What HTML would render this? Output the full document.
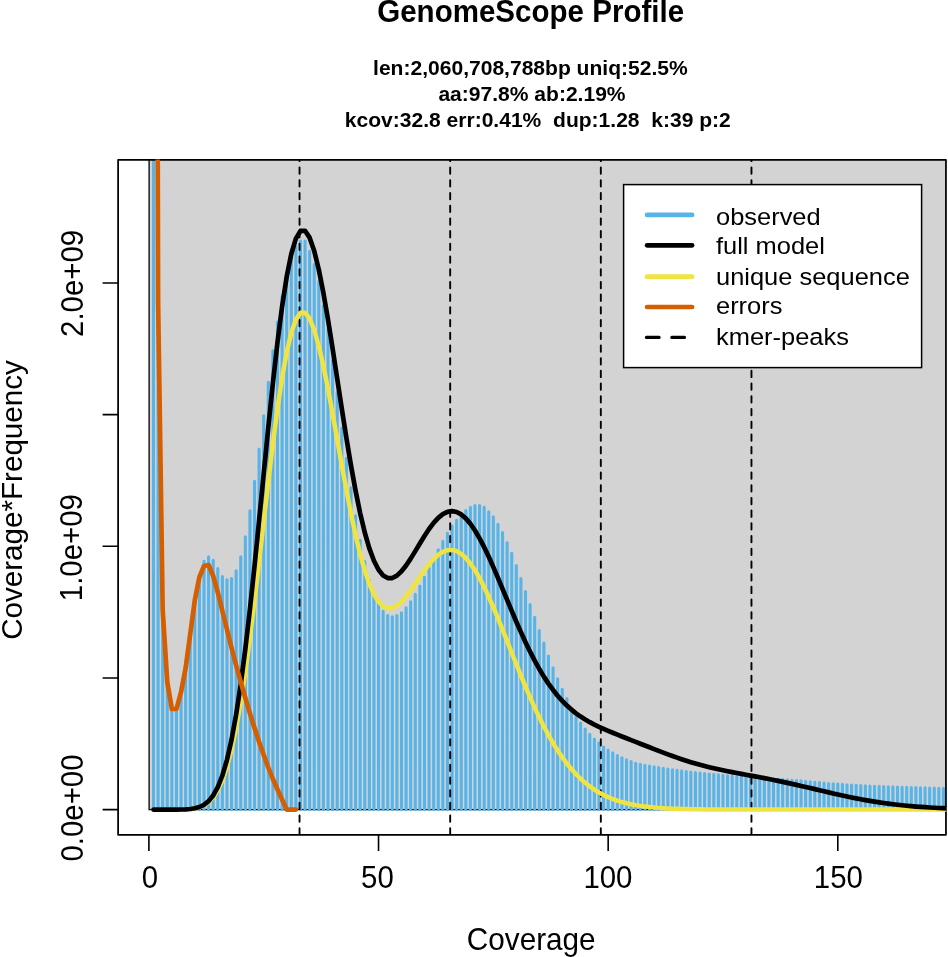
<!DOCTYPE html>
<html lang="en"><head><meta charset="utf-8"><title>GenomeScope Profile</title>
<style>
html,body{margin:0;padding:0;background:#fff;}
body{width:948px;height:957px;overflow:hidden;}
svg{display:block;}
text{font-family:"Liberation Sans",Arial,Helvetica,sans-serif;fill:#000;}
.b{font-weight:bold;}
</style></head><body>
<svg width="948" height="957" viewBox="0 0 948 957">
<rect x="0" y="0" width="948" height="957" fill="#ffffff"/>
<defs><clipPath id="plot"><rect x="118.1" y="159.95" width="827.85" height="674.90"/></clipPath><clipPath id="plot2"><rect x="117.65" y="159.50" width="828.75" height="675.80"/></clipPath></defs>
<text class="b" transform="translate(530.65 22.4) scale(1 1.075)" font-size="29.55" text-anchor="middle">GenomeScope Profile</text>
<text class="b" x="530.4" y="75.1" font-size="21.05" text-anchor="middle">len:2,060,708,788bp uniq:52.5%</text>
<text class="b" x="532.0" y="100.6" font-size="21.05" text-anchor="middle">aa:97.8% ab:2.19%</text>
<text class="b" x="537.8" y="126.9" font-size="21.05" text-anchor="middle" xml:space="preserve">kcov:32.8 err:0.41%  dup:1.28  k:39 p:2</text>
<g clip-path="url(#plot)">
<rect x="149.10" y="139.95" width="900" height="669.65" fill="#d3d3d3" stroke="#000" stroke-width="1.3"/>
<path d="M153.49 809.6V100.5M158.09 809.6V300.6M162.68 809.6V610.5M167.27 809.6V682.5M171.86 809.6V709.5M176.46 809.6V709.5M181.05 809.6V690.5M185.64 809.6V668.5M190.23 809.6V636.5M194.83 809.6V601.5M199.42 809.6V577.5M204.01 809.6V561.3M208.61 809.6V556.8M213.20 809.6V560.4M217.79 809.6V568.5M222.38 809.6V576.5M226.98 809.6V579.8M231.57 809.6V578.5M236.16 809.6V570.9M240.75 809.6V556.8M245.35 809.6V536.8M249.94 809.6V510.9M254.53 809.6V481.2M259.12 809.6V449.2M263.72 809.6V415.8M268.31 809.6V382.4M272.90 809.6V350.8M277.50 809.6V322.1M282.09 809.6V296.6M286.68 809.6V275.6M291.27 809.6V258.6M295.87 809.6V246.6M300.46 809.6V241.1M305.05 809.6V241.1M309.64 809.6V251.2M314.24 809.6V264.6M318.83 809.6V281.6M323.42 809.6V305.6M328.02 809.6V329.6M332.61 809.6V360.6M337.20 809.6V392.6M341.79 809.6V428.1M346.39 809.6V458.4M350.98 809.6V487.9M355.57 809.6V515.8M360.16 809.6V540.4M364.76 809.6V561.5M369.35 809.6V580.1M373.94 809.6V593.5M378.53 809.6V603.5M383.13 809.6V611.3M387.72 809.6V615.5M392.31 809.6V616.9M396.91 809.6V615.5M401.50 809.6V612.8M406.09 809.6V607.9M410.68 809.6V601.8M415.28 809.6V594.4M419.87 809.6V586.0M424.46 809.6V577.2M429.05 809.6V568.3M433.65 809.6V559.0M438.24 809.6V549.8M442.83 809.6V541.3M447.43 809.6V533.2M452.02 809.6V526.1M456.61 809.6V520.2M461.20 809.6V515.1M465.80 809.6V510.6M470.39 809.6V507.2M474.98 809.6V505.6M479.57 809.6V505.6M484.17 809.6V507.2M488.76 809.6V511.8M493.35 809.6V516.8M497.95 809.6V524.2M502.54 809.6V532.6M507.13 809.6V542.8M511.72 809.6V553.2M516.32 809.6V565.5M520.91 809.6V578.5M525.50 809.6V591.6M530.09 809.6V604.6M534.69 809.6V617.3M539.28 809.6V630.5M543.87 809.6V643.1M548.46 809.6V656.0M553.06 809.6V667.9M557.65 809.6V678.9M562.24 809.6V689.3M566.84 809.6V698.6M571.43 809.6V708.5M576.02 809.6V717.2M580.61 809.6V723.1M585.21 809.6V729.0M589.80 809.6V734.4M594.39 809.6V739.1M598.98 809.6V743.0M603.58 809.6V747.0M608.17 809.6V750.1M612.76 809.6V752.9M617.36 809.6V755.5M621.95 809.6V757.8M626.54 809.6V759.8M631.13 809.6V761.5M635.73 809.6V763.2M640.32 809.6V764.4M644.91 809.6V765.4M649.50 809.6V766.1M654.10 809.6V766.8M658.69 809.6V767.6M663.28 809.6V768.3M667.88 809.6V769.0M672.47 809.6V769.7M677.06 809.6V770.3M681.65 809.6V770.9M686.25 809.6V771.5M690.84 809.6V772.1M695.43 809.6V772.6M700.02 809.6V773.1M704.62 809.6V773.5M709.21 809.6V774.0M713.80 809.6V774.4M718.39 809.6V774.9M722.99 809.6V775.3M727.58 809.6V775.7M732.17 809.6V776.1M736.77 809.6V776.5M741.36 809.6V776.9M745.95 809.6V777.2M750.54 809.6V777.6M755.14 809.6V777.9M759.73 809.6V778.2M764.32 809.6V778.5M768.91 809.6V778.8M773.51 809.6V779.0M778.10 809.6V779.3M782.69 809.6V779.6M787.29 809.6V779.9M791.88 809.6V780.2M796.47 809.6V780.5M801.06 809.6V780.9M805.66 809.6V781.3M810.25 809.6V781.7M814.84 809.6V782.2M819.43 809.6V782.6M824.03 809.6V783.0M828.62 809.6V783.5M833.21 809.6V783.8M837.80 809.6V784.1M842.40 809.6V784.4M846.99 809.6V784.7M851.58 809.6V785.0M856.18 809.6V785.3M860.77 809.6V785.5M865.36 809.6V785.7M869.95 809.6V786.0M874.55 809.6V786.2M879.14 809.6V786.4M883.73 809.6V786.6M888.32 809.6V786.8M892.92 809.6V786.9M897.51 809.6V787.1M902.10 809.6V787.2M906.70 809.6V787.4M911.29 809.6V787.5M915.88 809.6V787.6M920.47 809.6V787.8M925.07 809.6V787.9M929.66 809.6V788.0M934.25 809.6V788.1M938.84 809.6V788.2M943.44 809.6V788.3M948.03 809.6V788.5" fill="none" stroke="#56b4e9" stroke-width="3.1" stroke-linecap="round"/>
<line x1="299.54" y1="142.09" x2="299.54" y2="837.85" stroke="#000" stroke-width="1.9" stroke-dasharray="6.35 6.356" stroke-linecap="round"/>
<line x1="450.18" y1="142.09" x2="450.18" y2="837.85" stroke="#000" stroke-width="1.9" stroke-dasharray="6.35 6.356" stroke-linecap="round"/>
<line x1="600.82" y1="142.09" x2="600.82" y2="837.85" stroke="#000" stroke-width="1.9" stroke-dasharray="6.35 6.356" stroke-linecap="round"/>
<line x1="751.46" y1="142.09" x2="751.46" y2="837.85" stroke="#000" stroke-width="1.9" stroke-dasharray="6.35 6.356" stroke-linecap="round"/>
</g>
<rect x="118.1" y="159.95" width="827.85" height="674.90" fill="none" stroke-linejoin="round" stroke="#000" stroke-width="1.75"/>
<g clip-path="url(#plot2)">
<polyline points="153.49,809.60 158.09,809.60 162.68,809.60 167.27,809.60 171.86,809.59 176.46,809.57 181.05,809.52 185.64,809.38 190.23,809.08 194.83,808.49 199.42,807.38 204.01,805.45 208.61,802.31 213.20,797.46 217.79,790.34 222.38,780.34 226.98,766.90 231.57,749.53 236.16,727.89 240.75,701.88 245.35,671.65 249.94,637.62 254.53,600.52 259.12,561.33 263.72,521.21 268.31,481.48 272.90,443.49 277.50,408.53 282.09,377.79 286.68,352.26 291.27,332.67 295.87,319.48 300.46,312.86 305.05,312.70 309.64,318.61 314.24,330.00 318.83,346.12 323.42,366.06 328.02,388.88 332.61,413.59 337.20,439.26 341.79,464.98 346.39,489.96 350.98,513.50 355.57,535.03 360.16,554.12 364.76,570.46 369.35,583.86 373.94,594.26 378.53,601.70 383.13,606.32 387.72,608.32 392.31,607.99 396.91,605.65 401.50,601.66 406.09,596.41 410.68,590.27 415.28,583.63 419.87,576.86 424.46,570.31 429.05,564.28 433.65,559.04 438.24,554.82 442.83,551.81 447.43,550.13 452.02,549.89 456.61,551.12 461.20,553.82 465.80,557.96 470.39,563.47 474.98,570.24 479.57,578.15 484.17,587.06 488.76,596.82 493.35,607.27 497.95,618.24 502.54,629.57 507.13,641.12 511.72,652.73 516.32,664.28 520.91,675.64 525.50,686.71 530.09,697.40 534.69,707.63 539.28,717.36 543.87,726.53 548.46,735.12 553.06,743.12 557.65,750.50 562.24,757.29 566.84,763.48 571.43,769.11 576.02,774.19 580.61,778.75 585.21,782.83 589.80,786.45 594.39,789.66 598.98,792.49 603.58,794.96 608.17,797.13 612.76,799.01 617.36,800.63 621.95,802.04 626.54,803.24 631.13,804.27 635.73,805.15 640.32,805.89 644.91,806.52 649.50,807.05 654.10,807.50 658.69,807.87 663.28,808.18 667.88,808.44 672.47,808.65 677.06,808.83 681.65,808.97 686.25,809.09 690.84,809.19 695.43,809.27 700.02,809.34 704.62,809.39 709.21,809.43 713.80,809.47 718.39,809.49 722.99,809.52 727.58,809.53 732.17,809.55 736.77,809.56 741.36,809.57 745.95,809.57 750.54,809.58 755.14,809.58 759.73,809.59 764.32,809.59 768.91,809.59 773.51,809.59 778.10,809.60 782.69,809.60 787.29,809.60 791.88,809.60 796.47,809.60 801.06,809.60 805.66,809.60 810.25,809.60 814.84,809.60 819.43,809.60 824.03,809.60 828.62,809.60 833.21,809.60 837.80,809.60 842.40,809.60 846.99,809.60 851.58,809.60 856.18,809.60 860.77,809.60 865.36,809.60 869.95,809.60 874.55,809.60 879.14,809.60 883.73,809.60 888.32,809.60 892.92,809.60 897.51,809.60 902.10,809.60 906.70,809.60 911.29,809.60 915.88,809.60 920.47,809.60 925.07,809.60 929.66,809.60 934.25,809.60 938.84,809.60 943.44,809.60 948.03,809.60 952.62,809.60" fill="none" stroke="#f0e442" stroke-width="4.5" stroke-linejoin="round" stroke-linecap="round"/>
<polyline points="153.49,809.60 158.09,809.60 162.68,809.60 167.27,809.60 171.86,809.59 176.46,809.57 181.05,809.50 185.64,809.34 190.23,809.00 194.83,808.30 199.42,807.01 204.01,804.77 208.61,801.11 213.20,795.46 217.79,787.16 222.38,775.51 226.98,759.85 231.57,739.61 236.16,714.41 240.75,684.11 245.35,648.88 249.94,609.24 254.53,566.02 259.12,520.36 263.72,473.63 268.31,427.34 272.90,383.08 277.50,342.35 282.09,306.55 286.68,276.81 291.27,253.99 295.87,238.64 300.46,230.94 305.05,230.76 309.64,237.67 314.24,250.98 318.83,269.79 323.42,293.07 328.02,319.72 332.61,348.59 337.20,378.59 341.79,408.67 346.39,437.90 350.98,465.49 355.57,490.76 360.16,513.21 364.76,532.48 369.35,548.35 373.94,560.75 378.53,569.72 383.13,575.42 387.72,578.08 392.31,578.03 396.91,575.63 401.50,571.31 406.09,565.49 410.68,558.62 415.28,551.13 419.87,543.44 424.46,535.94 429.05,528.98 433.65,522.87 438.24,517.85 442.83,514.14 447.43,511.87 452.02,511.15 456.61,512.00 461.20,514.44 465.80,518.39 470.39,523.77 474.98,530.47 479.57,538.32 484.17,547.17 488.76,556.83 493.35,567.12 497.95,577.85 502.54,588.83 507.13,599.91 511.72,610.91 516.32,621.71 520.91,632.17 525.50,642.20 530.09,651.70 534.69,660.63 539.28,668.94 543.87,676.60 548.46,683.61 553.06,689.98 557.65,695.73 562.24,700.89 566.84,705.50 571.43,709.62 576.02,713.29 580.61,716.57 585.21,719.51 589.80,722.17 594.39,724.59 598.98,726.82 603.58,728.91 608.17,730.89 612.76,732.79 617.36,734.65 621.95,736.47 626.54,738.28 631.13,740.08 635.73,741.89 640.32,743.70 644.91,745.51 649.50,747.31 654.10,749.11 658.69,750.89 663.28,752.64 667.88,754.36 672.47,756.03 677.06,757.66 681.65,759.22 686.25,760.72 690.84,762.15 695.43,763.52 700.02,764.81 704.62,766.03 709.21,767.19 713.80,768.28 718.39,769.31 722.99,770.30 727.58,771.24 732.17,772.15 736.77,773.02 741.36,773.89 745.95,774.73 750.54,775.58 755.14,776.43 759.73,777.29 764.32,778.16 768.91,779.05 773.51,779.97 778.10,780.90 782.69,781.87 787.29,782.85 791.88,783.86 796.47,784.89 801.06,785.94 805.66,787.01 810.25,788.08 814.84,789.16 819.43,790.24 824.03,791.32 828.62,792.39 833.21,793.44 837.80,794.48 842.40,795.49 846.99,796.48 851.58,797.43 856.18,798.35 860.77,799.23 865.36,800.08 869.95,800.88 874.55,801.64 879.14,802.35 883.73,803.03 888.32,803.65 892.92,804.24 897.51,804.78 902.10,805.28 906.70,805.74 911.29,806.16 915.88,806.54 920.47,806.89 925.07,807.21 929.66,807.50 934.25,807.75 938.84,807.98 943.44,808.19 948.03,808.37 952.62,808.53" fill="none" stroke="#000" stroke-width="4.7" stroke-linejoin="round" stroke-linecap="round"/>
<polyline points="153.49,-1567.00 158.09,300.00 162.68,610.00 167.27,682.00 171.86,709.00 176.46,709.00 181.05,692.00 185.64,668.00 190.23,634.00 194.83,600.00 199.42,577.00 204.01,566.00 208.61,565.00 213.20,576.00 217.79,592.50 222.38,611.00 226.98,629.50 231.57,648.00 236.16,665.50 240.75,682.00 245.35,698.00 249.94,713.50 254.53,728.00 259.12,742.00 263.72,755.00 268.31,767.50 272.90,779.00 277.50,789.50 282.09,799.50 286.68,809.60 291.27,809.60 295.87,809.60" fill="none" stroke="#d55e00" stroke-width="4.7" stroke-linejoin="round" stroke-linecap="round"/>
</g>
<path d="M148.90 834.85V850.9M378.53 834.85V850.9M608.17 834.85V850.9M837.80 834.85V850.9M118.1 809.60H102.6M118.1 677.95H102.6M118.1 546.30H102.6M118.1 414.65H102.6M118.1 283.00H102.6" fill="none" stroke="#000" stroke-width="1.6"/>
<text transform="translate(149.80 888.1) scale(1 1.09)" font-size="29.4" text-anchor="middle">0</text>
<text transform="translate(377.43 888.1) scale(1 1.09)" font-size="29.4" text-anchor="middle">50</text>
<text transform="translate(607.92 888.1) scale(1 1.09)" font-size="29.4" text-anchor="middle">100</text>
<text transform="translate(838.40 888.1) scale(1 1.09)" font-size="29.4" text-anchor="middle">150</text>
<text transform="translate(83.2 808.0) rotate(-90) scale(1 1.08)" font-size="29.4" text-anchor="middle">0.0e+00</text>
<text transform="translate(81.6 547.65) rotate(-90) scale(1 1.08)" font-size="29.4" text-anchor="middle">1.0e+09</text>
<text transform="translate(83.2 283.4) rotate(-90) scale(1 1.08)" font-size="29.4" text-anchor="middle">2.0e+09</text>
<text transform="translate(531.2 950.0) scale(1 1.06)" font-size="29.7" text-anchor="middle">Coverage</text>
<text transform="translate(22.4 500.0) rotate(-90) scale(1 1.0)" font-size="29.6" text-anchor="middle">Coverage*Frequency</text>
<rect x="623.6" y="184.6" width="298" height="183" fill="#fff" stroke="#000" stroke-width="1.5"/>
<line x1="647.1" y1="214.9" x2="692.1" y2="214.9" stroke="#56b4e9" stroke-width="4.7" stroke-linecap="round"/>
<text transform="translate(716.0 225.0) scale(1 0.95)" font-size="25.45">observed</text>
<line x1="647.1" y1="245.3" x2="692.1" y2="245.3" stroke="#000" stroke-width="4.7" stroke-linecap="round"/>
<text transform="translate(716.0 253.8) scale(1 0.95)" font-size="25.45">full model</text>
<line x1="647.1" y1="276.7" x2="692.1" y2="276.7" stroke="#f0e442" stroke-width="4.7" stroke-linecap="round"/>
<text transform="translate(716.0 284.8) scale(1 0.95)" font-size="25.45">unique sequence</text>
<line x1="647.1" y1="307.0" x2="692.1" y2="307.0" stroke="#d55e00" stroke-width="4.7" stroke-linecap="round"/>
<text transform="translate(716.0 314.4) scale(1 0.95)" font-size="25.45">errors</text>
<path d="M646.4 337.4H659.1M671.8 337.4H684.5" stroke="#000" stroke-width="3.1" stroke-linecap="round" fill="none"/>
<text transform="translate(716.0 345.4) scale(1 0.95)" font-size="25.45">kmer-peaks</text>
</svg>
</body></html>
